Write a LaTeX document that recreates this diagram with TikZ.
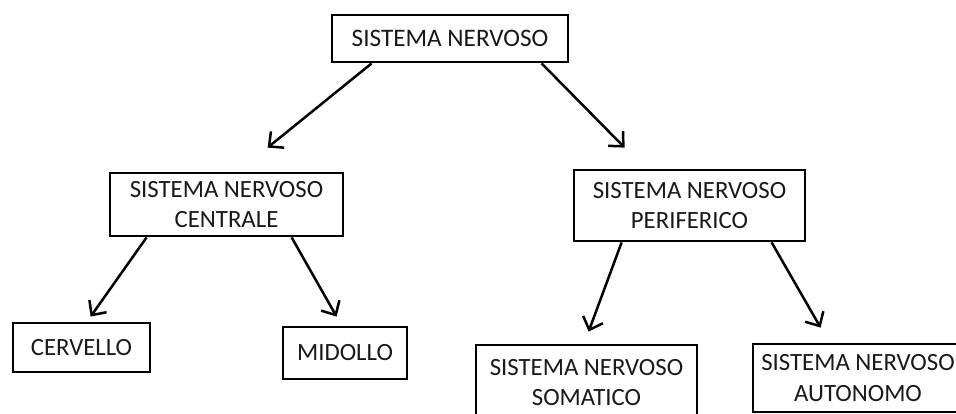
\documentclass[tikz,border=0pt]{standalone}
\usepackage{fontspec}
\setmainfont{Carlito}
\usetikzlibrary{arrows.meta}
\begin{document}
\begin{tikzpicture}[x=1pt,y=-1pt,
  box/.style={draw=black, line width=2.8pt, rectangle, inner sep=0pt, align=center,
    font=\fontsize{24.8}{30.5}\selectfont, text=black!90},
  arr/.style={draw=black, line width=2.5pt,
    -{Straight Barb[length=11pt,width=21pt,line width=2.5pt]}}]
\useasboundingbox (0,0) rectangle (956,414);
\clip (0,0) rectangle (956,414);
\fill[white] (0,0) rectangle (956,414);
\node[box, minimum width=236pt, minimum height=47pt, font=\fontsize{25.2}{30}\selectfont] (sn) at (450,38.5) {SISTEMA NERVOSO};
\node[box, minimum width=233pt, minimum height=63pt] (snc) at (226.5,204.5) {SISTEMA NERVOSO\\CENTRALE};
\node[box, minimum width=231pt, minimum height=71pt] (snp) at (689.5,205.5) {SISTEMA NERVOSO\\PERIFERICO};
\node[box, minimum width=137pt, minimum height=49pt] (cer) at (81.5,347.5) {CERVELLO};
\node[box, minimum width=124pt, minimum height=52pt] (mid) at (345,353) {MIDOLLO};
\node[box, minimum width=221pt, minimum height=75pt] (som) at (586.5,382.5) {SISTEMA NERVOSO\\SOMATICO};
\node[box, minimum width=210pt, minimum height=68pt] (aut) at (858,378) {SISTEMA NERVOSO\\AUTONOMO};
\draw[arr] ([xshift=41pt]sn.south west) -- ([xshift=159pt,yshift=24pt]snc.north west);
\draw[arr] ([xshift=211pt]sn.south west) -- ([xshift=52pt,yshift=21pt]snp.north west);
\draw[arr] ([xshift=38pt]snc.south west) -- ([xshift=79pt,yshift=5pt]cer.north west);
\draw[arr] ([xshift=183pt]snc.south west) -- ([xshift=55pt,yshift=9pt]mid.north west);
\draw[arr] ([xshift=49pt]snp.south west) -- ([xshift=114pt,yshift=12pt]som.north west);
\draw[arr] ([xshift=199pt]snp.south west) -- ([xshift=69pt,yshift=15pt]aut.north west);
\end{tikzpicture}
\end{document}
